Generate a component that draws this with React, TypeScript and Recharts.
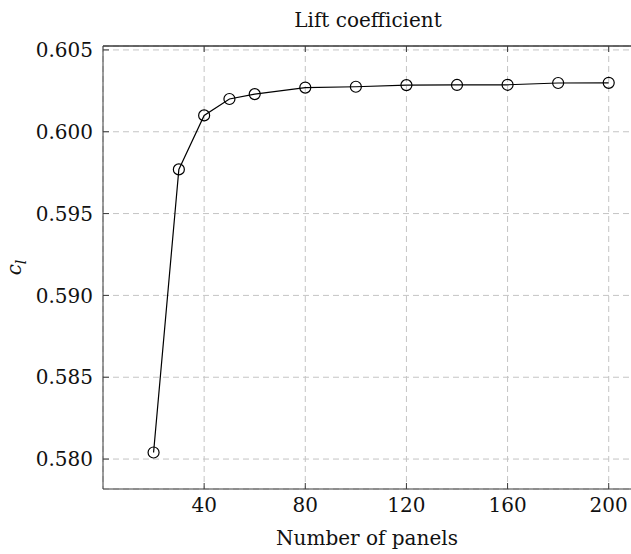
import { LineChart, Line, XAxis, YAxis, CartesianGrid, ReferenceLine } from 'recharts';

const panels = [20, 30, 40, 50, 60, 80, 100, 120, 140, 160, 180, 200];
const liftCoeff = [0.5804, 0.5977, 0.601, 0.602, 0.6023, 0.6027, 0.60275, 0.60285, 0.60286, 0.60287, 0.60298, 0.60299];
const xTicks = [40, 80, 120, 160, 200];
const yTicks = [0.58, 0.585, 0.59, 0.595, 0.6, 0.605];
const yDomain = [0.57817, 0.60524];

const data = panels.map((n, i) => ({ n, cl: liftCoeff[i] }));

const FONT = '"DejaVu Serif"';
const FS = 20;
const AXIS = '#3a3a3a';
const tickStyle = { fontSize: FS, fill: '#111', fontFamily: FONT };

function YLabel({ viewBox }: any) {
  const cy = viewBox.y + viewBox.height / 2;
  return (
    <text x={21} y={cy} transform={`rotate(-90, 21, ${cy})`} textAnchor="middle"
          fontFamily={FONT} fontSize={FS} fill="#111">
      <tspan fontStyle="italic">c</tspan>
      <tspan fontStyle="italic" fontSize={14} dy={5}>l</tspan>
    </text>
  );
}

export default function App() {
  return (
    <div style={{ position: 'absolute', left: 0, top: 0, width: 631, height: 554, overflow: 'hidden', background: '#fff' }}>
      <LineChart width={634} height={554} data={data} margin={{ top: 45, right: 0, bottom: 0, left: 0 }}>
        <CartesianGrid stroke="#c4c4c4" strokeDasharray="6 4" />
        <XAxis dataKey="n" type="number" domain={[0, 210]} ticks={xTicks} height={65}
               tick={tickStyle} tickSize={-6} tickMargin={15}
               axisLine={{ stroke: AXIS }} tickLine={{ stroke: AXIS }} />
        <XAxis xAxisId="top" orientation="top" dataKey="n" type="number" domain={[0, 210]} ticks={xTicks}
               height={1} tickSize={-6} tickFormatter={() => ''}
               axisLine={{ stroke: AXIS }} tickLine={{ stroke: AXIS }} />
        <YAxis type="number" domain={yDomain} ticks={yTicks} width={103}
               tickFormatter={(v: number) => v.toFixed(3)}
               tick={tickStyle} tickSize={-6} tickMargin={16}
               axisLine={{ stroke: AXIS }} tickLine={{ stroke: AXIS }}
               label={<YLabel />} />
        <ReferenceLine y={yDomain[1]} stroke={AXIS} strokeWidth={1} />
        <Line dataKey="cl" stroke="#000" strokeWidth={1.2} isAnimationActive={false}
              dot={{ r: 5.5, fill: 'none', stroke: '#000', strokeWidth: 1.2 }} activeDot={false} />
        <text x={368} y={27} textAnchor="middle" fontFamily={FONT} fontSize={FS} fill="#111">Lift coefficient</text>
        <text x={367} y={545} textAnchor="middle" fontFamily={FONT} fontSize={FS} fill="#111">Number of panels</text>
      </LineChart>
    </div>
  );
}
